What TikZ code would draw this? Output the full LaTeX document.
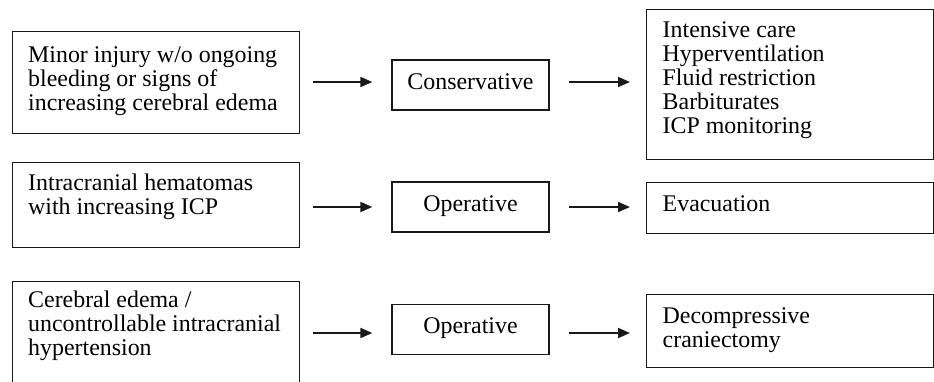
\documentclass[tikz,border=0pt]{standalone}
\usepackage{fontspec}
\setmainfont{Liberation Serif}
\usetikzlibrary{arrows.meta}
\newcommand{\mlines}[1]{\vtop{\lineskiplimit=-100pt\baselineskip=24pt\halign{##\hfil\cr#1\crcr}}}
\tikzset{
  box/.style={draw=black!90, line width=1.3pt, rectangle, inner sep=0pt, anchor=north west},
  midbox/.style={box, anchor=center, minimum width=157pt, minimum height=50pt, text height=16pt, text depth=8pt},
  txt/.style={anchor=base west, inner sep=0pt, font=\fontsize{23.9}{24}\selectfont},
  arr/.style={draw=black!90, line width=1.8pt, -{Triangle[length=12pt,width=10pt]}}
}
\begin{document}
\begin{tikzpicture}[x=1pt,y=-1pt, font=\fontsize{23.9}{24}\selectfont]
\useasboundingbox (0,0) rectangle (934,381);
\clip (0,0) rectangle (934,381);
% row coordinates for arrows
\coordinate (a1) at (0,82);
\coordinate (a2) at (0,207);
\coordinate (a3) at (0,333);
% left boxes
\node[box, minimum width=287pt, minimum height=102pt] (b1) at (12,31) {};
\node[box, minimum width=287pt, minimum height=85pt] (b2) at (12,162) {};
\node[box, minimum width=287pt, minimum height=125pt] (b3) at (12,281) {};
\node[txt] (t1) at (28,62.3) {\mlines{Minor injury w/o ongoing\cr bleeding or signs of\cr increasing cerebral edema}};
\node[txt] (t2) at (28,190) {\mlines{Intracranial hematomas\cr with increasing ICP}};
\node[txt] (t3) at (28,307.3) {\mlines{Cerebral edema /\cr uncontrollable intracranial\cr hypertension}};
% middle boxes
\node[midbox] (c1) at (470.5,85) {Conservative};
\node[midbox] (o2) at (470.5,207) {Operative};
\node[midbox] (o3) at (470.5,329.5) {Operative};
% right boxes
\node[box, minimum width=287pt, minimum height=150pt] (r1) at (646,9) {};
\node[box, minimum width=287pt, minimum height=51pt] (r2) at (646,182) {};
\node[box, minimum width=287pt, minimum height=73pt] (r3) at (646,294) {};
\node[txt] (u1) at (662.5,37.3) {\mlines{Intensive care\cr Hyperventilation\cr Fluid restriction\cr Barbiturates\cr ICP monitoring}};
\node[txt] (u2) at (662.5,211) {Evacuation};
\node[txt] (u3) at (662.5,323.3) {\mlines{Decompressive\cr craniectomy}};
% arrows
\draw[arr, shorten <=13pt, shorten >=19pt] (b1.east |- a1) -- (c1.west |- a1);
\draw[arr, shorten <=19pt, shorten >=16pt] (c1.east |- a1) -- (r1.west |- a1);
\draw[arr, shorten <=13pt, shorten >=19pt] (b2.east |- a2) -- (o2.west |- a2);
\draw[arr, shorten <=19pt, shorten >=16pt] (o2.east |- a2) -- (r2.west |- a2);
\draw[arr, shorten <=13pt, shorten >=19pt] (b3.east |- a3) -- (o3.west |- a3);
\draw[arr, shorten <=19pt, shorten >=16pt] (o3.east |- a3) -- (r3.west |- a3);
\end{tikzpicture}
\end{document}
